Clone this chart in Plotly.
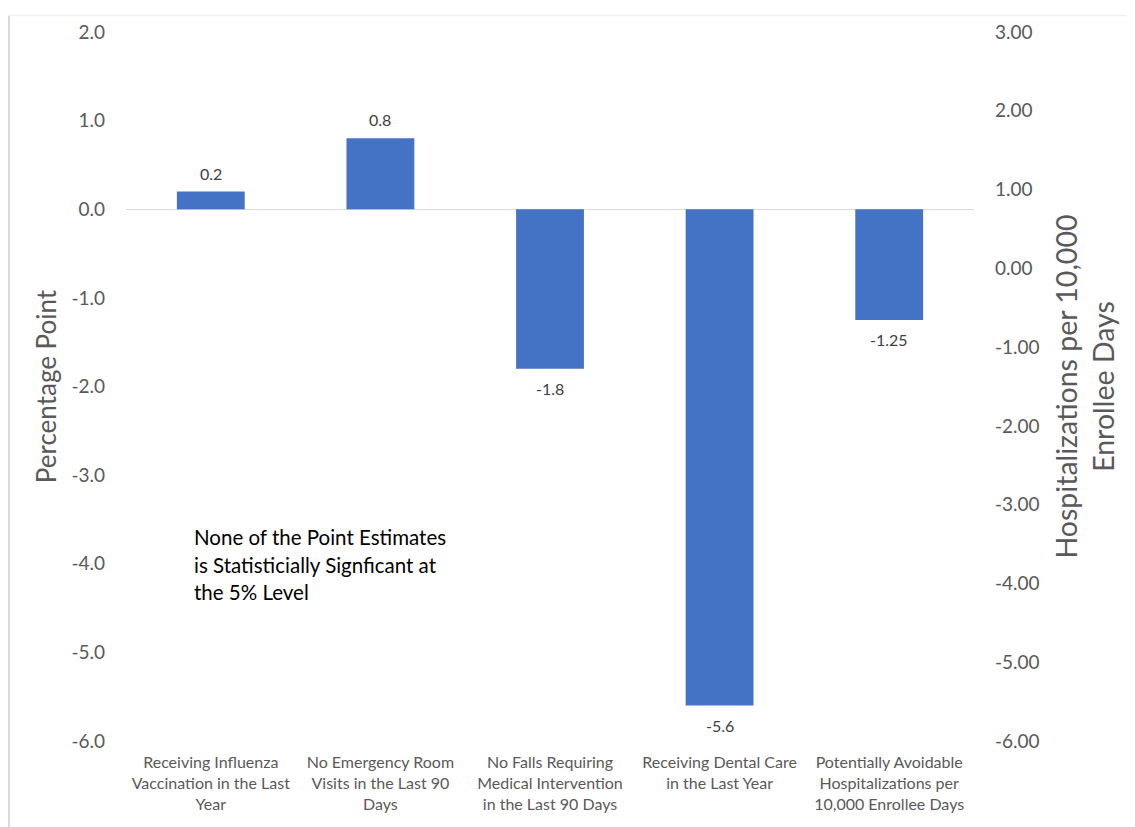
import plotly.graph_objects as go

categories = [
    "Receiving Influenza<br>Vaccination in the Last<br>Year",
    "No Emergency Room<br>Visits in the Last 90<br>Days",
    "No Falls Requiring<br>Medical Intervention<br>in the Last 90 Days",
    "Receiving Dental Care<br>in the Last Year",
    "Potentially Avoidable<br>Hospitalizations per<br>10,000 Enrollee Days",
]
values = [0.2, 0.8, -1.8, -5.6, -1.25]
value_labels = ["0.2", "0.8", "-1.8", "-5.6", "-1.25"]
left_ticks = [-6, -5, -4, -3, -2, -1, 0, 1, 2]
right_ticks = [-6, -5, -4, -3, -2, -1, 0, 1, 2, 3]
note_lines = ["None of the Point Estimates", "is Statisticially Signficant at", "the 5% Level"]

FONT = "Lato, Open Sans, sans-serif"
BLUE = "#4472C4"
GRAY = "#595959"

W, H = 1135, 827
PL, PR, PT, PB = 118, 966, 17, 733  # plot area in figure pixels
PW, PH = PR - PL, PB - PT

fig = go.Figure()
fig.add_trace(go.Bar(
    x=categories, y=values, marker=dict(color=BLUE, line=dict(width=0)),
    width=0.4, showlegend=False, hoverinfo="skip",
))
# right axis scale (no visible marks)
fig.add_trace(go.Scatter(x=[categories[0]], y=[0], yaxis="y2", mode="markers",
                         marker=dict(opacity=0), showlegend=False, hoverinfo="skip"))

# data labels
for cat, val, lab in zip(categories, values, value_labels):
    fig.add_annotation(x=cat, y=val, xref="x", yref="y", text=lab, showarrow=False,
                       yanchor="bottom" if val >= 0 else "top",
                       yshift=7 if val >= 0 else -8,
                       font=dict(family=FONT, size=16, color="#404040"))

fig.update_layout(
    width=W, height=H,
    margin=dict(l=PL, r=W - PR, t=PT, b=H - PB),
    paper_bgcolor="white", plot_bgcolor="white",
    font=dict(family=FONT, color=GRAY),
    xaxis=dict(showgrid=False, showline=False, ticks="", zeroline=False,
               ticklabelstandoff=10,
               tickfont=dict(family=FONT, size=16, color=GRAY)),
    yaxis=dict(range=[-6, 2], tickvals=left_ticks,
               ticktext=[f"{v:.1f}" for v in left_ticks],
               showgrid=False, zeroline=True, zerolinecolor="#D9D9D9", zerolinewidth=1.3,
               showline=False, ticks="", ticklabelstandoff=20,
               tickfont=dict(family=FONT, size=19, color=GRAY),
               title=dict(text="Percentage Point", standoff=7,
                          font=dict(family=FONT, size=26, color=GRAY))),
    yaxis2=dict(range=[-6, 3], tickvals=right_ticks,
                ticktext=[f"{v:.2f}" for v in right_ticks],
                overlaying="y", side="right", showgrid=False, zeroline=False,
                showline=False, ticks="", ticklabelstandoff=20,
                tickfont=dict(family=FONT, size=19, color=GRAY),
                title=dict(text="Hospitalizations per 10,000<br>Enrollee Days", standoff=18,
                           font=dict(family=FONT, size=28.5, color=GRAY))),
    bargap=0.6,
)

for i, line in enumerate(note_lines):
    fig.add_annotation(xref="paper", yref="paper", x=(184 - PL) / PW,
                       y=(PB - (527 + 28 * i)) / PH, xanchor="left", yanchor="middle",
                       text=line, showarrow=False,
                       font=dict(family=FONT, size=20.5, color="#000000"))

# chart frame (left and top edges)
fig.add_shape(type="line", xref="paper", yref="paper",
              x0=(1 - PL) / PW, x1=(1 - PL) / PW, y0=(PB - H) / PH, y1=(PB - 0.5) / PH,
              line=dict(color="#D9D9D9", width=2), layer="below")
fig.add_shape(type="line", xref="paper", yref="paper",
              x0=(1 - PL) / PW, x1=(W - PL) / PW, y0=(PB - 0.5) / PH, y1=(PB - 0.5) / PH,
              line=dict(color="#EBEBEB", width=1), layer="below")

fig.write_html("out.html")
